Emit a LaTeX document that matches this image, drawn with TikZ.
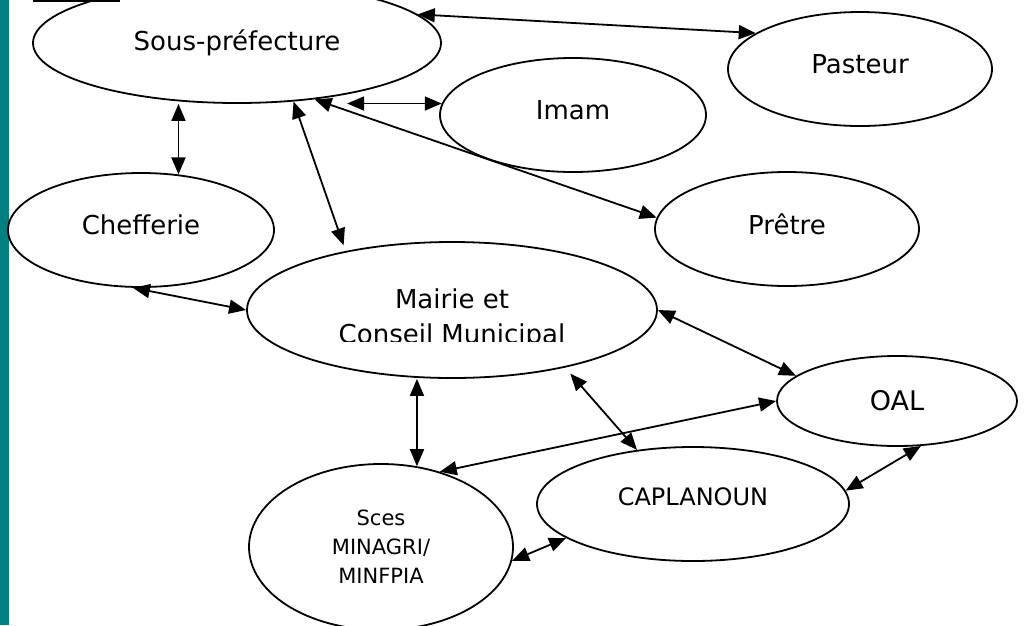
\documentclass[tikz,border=0pt]{standalone}
\usepackage{fontspec}
\setmainfont{DejaVu Sans}
\usetikzlibrary{shapes.geometric,arrows.meta}
\definecolor{barteal}{RGB}{0,128,128}
\begin{document}
\begin{tikzpicture}[x=1pt,y=-1pt,
  bub/.style={draw, ellipse, line width=1.8pt, inner sep=0pt, align=center,
    font=\fontsize{26}{30}\selectfont},
  raised/.style={text depth=10pt},
  arr/.style={{Triangle[length=17pt,width=14pt]}-{Triangle[length=17pt,width=14pt]}, line width=1.8pt},
]
\useasboundingbox (0,0) rectangle (1026,625);
\fill[barteal] (0,0) rectangle (9,625);
\draw[line width=2.5pt] (33,1) -- (120,1);

\node[bub, minimum width=408pt, minimum height=120pt] (sp) at (237,43) {Sous-préfecture};
\node[bub, raised, minimum width=264pt, minimum height=114pt] (pasteur) at (860,69) {Pasteur};
\node[bub, raised, minimum width=266pt, minimum height=114pt] (imam) at (573,115) {Imam};
\node[bub, raised, minimum width=264pt, minimum height=114pt] (pretre) at (787,229) {Prêtre};
\node[bub, raised, minimum width=266pt, minimum height=114pt] (chef) at (141,230) {Chefferie};
\node[bub, minimum width=410pt, minimum height=136pt] (mairie) at (452,310) {};
\begin{scope}
  \clip (248,240) rectangle (660,341);
  \node[align=center, font=\fontsize{26}{35}\selectfont] (mtext) at (452,319) {Mairie et\\Conseil Municipal};
\end{scope}
\node[bub, minimum width=240pt, minimum height=90pt, font=\fontsize{27}{30}\selectfont] (oal) at (897,401) {OAL};
\node[bub, minimum width=312pt, minimum height=114pt, text depth=14pt, font=\fontsize{24}{28}\selectfont] (cap) at (693,504) {CAPLANOUN};
\node[bub, minimum width=264pt, minimum height=166pt, font=\fontsize{21}{29}\selectfont] (sces) at (381,547) {Sces\\MINAGRI/\\MINFPIA};

\draw[arr] (sp.9.7) -- (pasteur.161.6);
\draw[arr] (sp.-25 |- imam.175) -- (imam.175);
\draw[arr] (sp.-36) -- (pretre.175);
\draw[arr, shorten >=6pt] (sp.-46) -- (mairie.151.5);
\draw[arr] (chef.56 |- sp.south) -- (chef.56);
\draw[arr] (chef.262) -- (mairie.west);
\draw[arr] (mairie.east) -- (oal.166);
\draw[arr] (mairie.south -| sces.66) -- (sces.66);
\draw[arr, shorten <=8pt] (mairie.-27.4) -- (cap.136);
\draw[arr] (sces.52) -- (oal.west);
\draw[arr] (cap.5) -- (oal.-62);
\draw[arr] (sces.-6.6) -- (cap.195);
\end{tikzpicture}
\end{document}
